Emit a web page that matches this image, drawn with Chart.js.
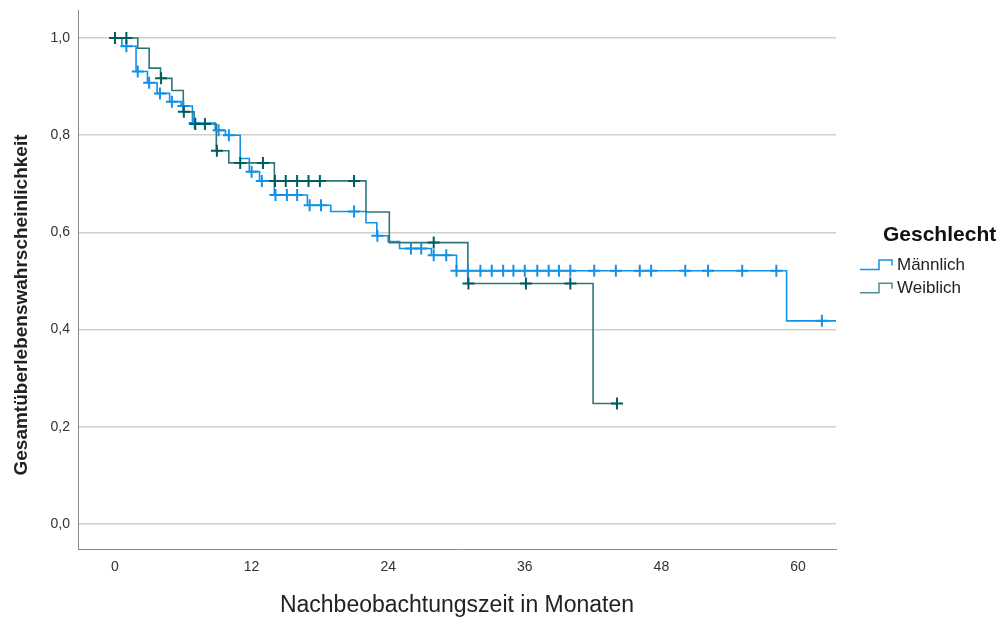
<!DOCTYPE html>
<html>
<head>
<meta charset="utf-8">
<script src="https://cdn.jsdelivr.net/npm/chart.js@4.4.1/dist/chart.umd.min.js"></script>
<style>
  html, body { margin: 0; padding: 0; background: #fff; }
  #wrap { width: 1000px; height: 619px; position: relative; }
</style>
</head>
<body>
<div id="wrap"><canvas id="kmChart"></canvas></div>
<script>
// Kaplan-Meier: Zeitpunkte der Ereignisse (Monate) und Überleben danach
const maleEventTimes = [0.6, 1.85, 2.85, 3.7, 4.8, 5.8, 6.8, 8.8, 9.7, 11.0, 11.8, 12.7, 14.0, 16.9, 18.95, 22.05, 23.0, 24.0, 25.0, 27.8, 30.0, 59.0];
const maleSurvival = [0.983, 0.931, 0.908, 0.886, 0.869, 0.860, 0.825, 0.810, 0.800, 0.752, 0.725, 0.706, 0.677, 0.656, 0.643, 0.620, 0.593, 0.581, 0.567, 0.553, 0.521, 0.418];
const maleCensored = [1.0, 2.0, 3.0, 3.95, 5.0, 6.0, 7.0, 9.1, 10.0, 12.0, 12.9, 14.1, 15.1, 16.0, 17.1, 18.1, 21.0, 23.05, 26.0, 26.9, 28.0, 29.1,
  30.0, 31.0, 32.1, 33.1, 34.1, 35.0, 36.0, 37.1, 38.1, 39.0, 40.0, 42.1, 44.0, 46.1, 47.1, 50.1, 52.1, 55.1, 58.1, 62.1];
const maleLastTime = 64;

const femaleEventTimes = [2.0, 3.0, 4.0, 5.0, 6.0, 6.95, 8.9, 10.0, 14.0, 22.05, 24.1, 31.0, 42.0];
const femaleSurvival = [0.979, 0.938, 0.917, 0.892, 0.848, 0.823, 0.768, 0.743, 0.706, 0.642, 0.579, 0.495, 0.248];
const femaleCensored = [0.0, 1.0, 4.05, 6.05, 7.05, 7.9, 8.95, 11.0, 13.0, 14.05, 15.0, 16.0, 17.0, 18.0, 21.0, 28.0, 31.05, 36.1, 40.0, 44.1];
const femaleLastTime = 44.1;

const xTicks = [0, 12, 24, 36, 48, 60];
const yTicks = [0, 0.2, 0.4, 0.6, 0.8, 1.0];
const groupLabels = ["Männlich", "Weiblich"];
const legendTitle = "Geschlecht";
const xTitle = "Nachbeobachtungszeit in Monaten";
const yTitle = "Gesamtüberlebenswahrscheinlichkeit";

const maleColor = "#1192e8";
const femaleColor = "#005d5d";
const femaleLineColor = "#2f7777";
const FONT = '"Liberation Sans", Arial, Helvetica, sans-serif';

function stepValue(times, surv, t) {
    let s = 1;
    for (let i = 0; i < times.length; i++) {
        if (times[i] <= t) s = surv[i];
    }
    return s;
}

function curvePoints(times, surv, lastTime) {
    const pts = [{ x: 0, y: 1 }];
    times.forEach((t, i) => pts.push({ x: t, y: surv[i] }));
    pts.push({ x: lastTime, y: surv[surv.length - 1] });
    return pts;
}

function censorPoints(times, surv, censored) {
    return censored.map(t => ({ x: t, y: stepValue(times, surv, t) }));
}

// Legende rechts und y-Titel (bei SPSS etwas unter der Mitte)
const legendPlugin = {
    id: "kmLegend",
    afterDraw(chart) {
        const ctx = chart.ctx;
        ctx.save();
        ctx.textBaseline = "middle";
        ctx.fillStyle = "#111";
        ctx.font = "bold 21px " + FONT;
        ctx.fillText(legendTitle, 883, 235);

        const colors = [maleColor, "#4f8f8c"];
        groupLabels.forEach((label, i) => {
            const y = 265 + i * 23.3;
            ctx.strokeStyle = colors[i];
            ctx.lineWidth = 1.5;
            ctx.beginPath();
            ctx.moveTo(860, y + 4.5);
            ctx.lineTo(879, y + 4.5);
            ctx.lineTo(879, y - 5);
            ctx.lineTo(892, y - 5);
            ctx.lineTo(892, y + 0.5);
            ctx.stroke();
            ctx.fillStyle = "#222";
            ctx.font = "17px " + FONT;
            ctx.fillText(label, 897, y);
        });

        ctx.translate(22, 305);
        ctx.rotate(-Math.PI / 2);
        ctx.textAlign = "center";
        ctx.fillStyle = "#222";
        ctx.font = "bold 19px " + FONT;
        ctx.fillText(yTitle, 0, 0);
        ctx.restore();
    }
};

new Chart(document.getElementById("kmChart"), {
    type: "line",
    data: {
        datasets: [
            {
                type: "scatter",
                data: censorPoints(femaleEventTimes, femaleSurvival, femaleCensored),
                showLine: false,
                pointStyle: "cross",
                pointRadius: 6,
                borderColor: femaleColor,
                pointBorderWidth: 2
            },
            {
                type: "scatter",
                data: censorPoints(maleEventTimes, maleSurvival, maleCensored),
                showLine: false,
                pointStyle: "cross",
                pointRadius: 6,
                borderColor: maleColor,
                pointBorderWidth: 2
            },
            {
                data: curvePoints(femaleEventTimes, femaleSurvival, femaleLastTime),
                stepped: "before",
                borderColor: femaleLineColor,
                borderWidth: 1.6,
                pointRadius: 0,
                fill: false
            },
            {
                data: curvePoints(maleEventTimes, maleSurvival, maleLastTime),
                stepped: "before",
                borderColor: maleColor,
                borderWidth: 1.6,
                pointRadius: 0,
                fill: false
            }
        ]
    },
    options: {
        responsive: true,
        maintainAspectRatio: false,
        devicePixelRatio: 1,
        animation: false,
        events: [],
        layout: { padding: { top: 10, right: 164, left: 0, bottom: 0 } },
        plugins: {
            legend: { display: false },
            tooltip: { enabled: false }
        },
        scales: {
            x: {
                type: "linear",
                min: -3.25,
                max: 63.34,
                afterBuildTicks: s => { s.ticks = xTicks.map(v => ({ value: v })); },
                afterFit: s => { s.height = 70; s.paddingLeft = 0; s.paddingRight = 0; },
                grid: { display: false, drawTicks: false },
                border: { display: true, color: "#8a8a8a", width: 1 },
                ticks: {
                    autoSkip: false,
                    maxRotation: 0,
                    padding: 10,
                    color: "#333",
                    font: { family: FONT, size: 14 }
                },
                title: {
                    display: true,
                    text: xTitle,
                    color: "#222",
                    font: { family: FONT, size: 23 },
                    padding: { top: 0, bottom: 0 }
                }
            },
            y: {
                min: -0.0514,
                max: 1.0576,
                afterBuildTicks: s => { s.ticks = yTicks.map(v => ({ value: v })); },
                afterFit: s => { s.width = 78; s.paddingTop = 0; s.paddingBottom = 0; },
                grid: { color: "#cfcfcf", lineWidth: 1.5, drawTicks: false },
                border: { display: true, color: "#8a8a8a", width: 1 },
                ticks: {
                    padding: 8,
                    color: "#333",
                    font: { family: FONT, size: 14 },
                    callback: v => v.toFixed(1).replace(".", ",")
                }
            }
        }
    },
    plugins: [legendPlugin]
});
</script>
</body>
</html>
